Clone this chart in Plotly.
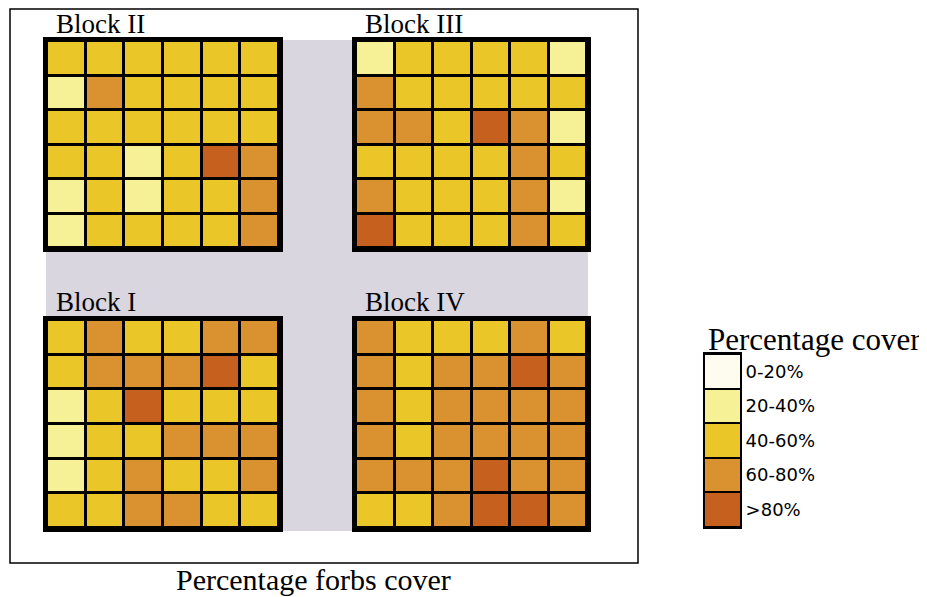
import plotly.graph_objects as go

# Category index: 0 = 0-20%, 1 = 20-40%, 2 = 40-60%, 3 = 60-80%, 4 = >80%
cover_labels = ["0-20%", "20-40%", "40-60%", "60-80%", ">80%"]
cover_colors = ["#fefcee", "#f6f196", "#ebc628", "#da9230", "#c6601f"]

# rows listed top to bottom, columns left to right
block_II = [
    [2, 2, 2, 2, 2, 2],
    [1, 3, 2, 2, 2, 2],
    [2, 2, 2, 2, 2, 2],
    [2, 2, 1, 2, 4, 3],
    [1, 2, 1, 2, 2, 3],
    [1, 2, 2, 2, 2, 3],
]
block_III = [
    [1, 2, 2, 2, 2, 1],
    [3, 2, 2, 2, 2, 2],
    [3, 3, 2, 4, 3, 1],
    [2, 2, 2, 2, 3, 2],
    [3, 2, 2, 2, 3, 1],
    [4, 2, 2, 2, 3, 2],
]
block_I = [
    [2, 3, 2, 2, 3, 3],
    [2, 3, 3, 3, 4, 2],
    [1, 2, 4, 2, 2, 2],
    [1, 2, 2, 3, 3, 3],
    [1, 2, 3, 2, 2, 3],
    [2, 2, 3, 3, 2, 2],
]
block_IV = [
    [3, 2, 2, 2, 3, 2],
    [3, 2, 3, 3, 4, 3],
    [3, 2, 3, 3, 3, 3],
    [3, 2, 3, 3, 3, 3],
    [3, 3, 3, 4, 3, 3],
    [2, 2, 3, 4, 4, 3],
]
block_names = ["Block II", "Block III", "Block I", "Block IV"]
blocks = [block_II, block_III, block_I, block_IV]

# the page body has an 8px margin, so the figure is drawn 8px in from the window corner
OFF = 8
W, H = 927 - OFF, 597 - OFF
def px(x):
    return (x - OFF) / W
def py(y):
    return 1 - (y - OFF) / H

# discrete colorscale
n = len(cover_colors)
cscale = []
for i, c in enumerate(cover_colors):
    cscale.append([i / n, c])
    cscale.append([(i + 1) / n, c])

# window-pixel boxes of the four grids (inside the thick border)
cols = [(47, 279), (356, 587)]
rows = [(41, 248), (320, 528)]
boxes = [(cols[0], rows[0]), (cols[1], rows[0]), (cols[0], rows[1]), (cols[1], rows[1])]
label_y = [24, 24, 302, 302]

fig = go.Figure()
serif = "Liberation Serif, Times New Roman, serif"
annotations = []
for k, (grid, name, (cx, ry)) in enumerate(zip(blocks, block_names, boxes)):
    idx = "" if k == 0 else str(k + 1)
    fig.add_trace(go.Heatmap(
        z=grid[::-1], colorscale=cscale, zmin=-0.5, zmax=n - 0.5,
        showscale=False, xgap=3, ygap=3, hoverinfo="z",
        xaxis="x" + idx, yaxis="y" + idx,
    ))
    axcommon = dict(showticklabels=False, ticks="", showgrid=False, zeroline=False,
                    showline=True, mirror=True, linecolor="black", linewidth=4)
    fig.update_layout({
        "xaxis" + idx: dict(domain=[px(cx[0]), px(cx[1])], anchor="y" + idx,
                            range=[-0.5, 5.5], **axcommon),
        "yaxis" + idx: dict(domain=[py(ry[1]), py(ry[0])], anchor="x" + idx,
                            range=[-0.5, 5.5], **axcommon),
    })
    annotations.append(dict(text=name, x=px(cx[0] + 7), y=py(label_y[k]),
                            xref="paper", yref="paper", xanchor="left", yanchor="middle",
                            showarrow=False, font=dict(family=serif, size=27, color="black")))

# legend as a one-column heatmap
fig.add_trace(go.Heatmap(
    z=[[i] for i in range(n)], y=cover_labels, colorscale=cscale,
    zmin=-0.5, zmax=n - 0.5, showscale=False, ygap=2, hoverinfo="y",
    xaxis="x5", yaxis="y5",
))
fig.update_layout(
    xaxis5=dict(domain=[px(705), px(740)], anchor="y5", showticklabels=False, ticks="",
                showgrid=False, zeroline=False, showline=True, mirror=True,
                linecolor="black", linewidth=2),
    yaxis5=dict(domain=[py(527), py(354)], anchor="x5", side="right",
                autorange="reversed", ticks="", showgrid=False, zeroline=False,
                showline=True, mirror=True, linecolor="black", linewidth=2,
                tickfont=dict(family="DejaVu Sans, sans-serif", size=18, color="black")),
)
annotations.append(dict(text="Percentage cover", x=px(706), y=py(339), xref="paper", yref="paper",
                        xanchor="left", yanchor="middle", showarrow=False,
                        font=dict(family=serif, size=31, color="black")))
annotations.append(dict(text="Percentage forbs cover", x=px(313), y=py(579), xref="paper",
                        yref="paper", xanchor="center", yanchor="middle", showarrow=False,
                        font=dict(family=serif, size=30, color="black")))

gray = "#dad6df"
shapes = [
    # outer frame
    dict(type="rect", xref="paper", yref="paper", x0=px(10), x1=px(638), y0=py(563), y1=py(9),
         line=dict(color="black", width=1.5), fillcolor="rgba(0,0,0,0)", layer="below"),
    # gray background between the grids
    dict(type="rect", xref="paper", yref="paper", x0=px(282), x1=px(353), y0=py(531), y1=py(40),
         line=dict(width=0), fillcolor=gray, layer="below"),
    dict(type="rect", xref="paper", yref="paper", x0=px(46), x1=px(588), y0=py(318), y1=py(250),
         line=dict(width=0), fillcolor=gray, layer="below"),
]

fig.update_layout(
    width=W, height=H, margin=dict(l=0, r=0, t=0, b=0),
    paper_bgcolor="white", plot_bgcolor="black",
    annotations=annotations, shapes=shapes, showlegend=False,
)
fig.write_html("out.html")
